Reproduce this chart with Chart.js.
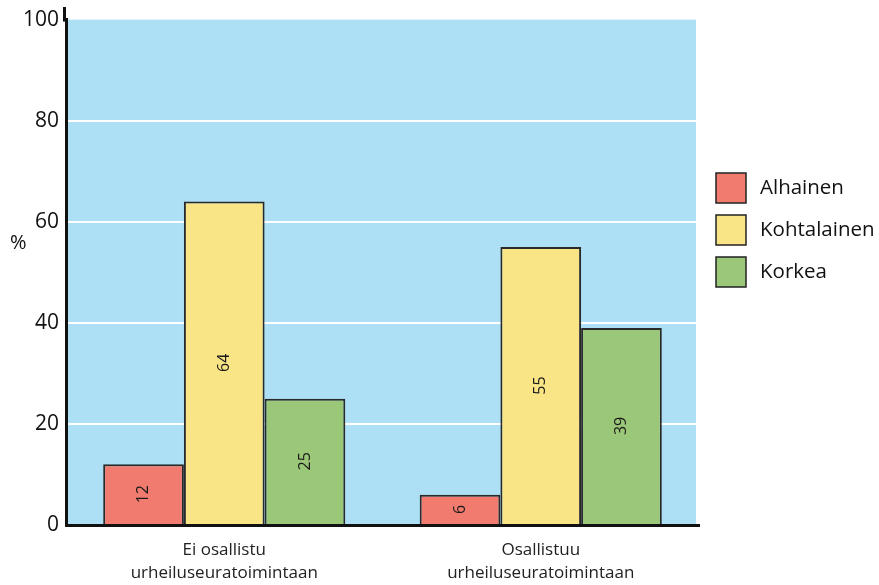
<!DOCTYPE html>
<html><head><meta charset="utf-8">
<script src="https://cdn.jsdelivr.net/npm/chart.js@4/dist/chart.umd.min.js"></script>
<style>html,body{margin:0;padding:0;background:#fff}#wrap{width:879px;height:585px}</style>
</head><body><div id="wrap"><canvas id="c" width="879" height="585"></canvas></div>
<script>
const categories = [["Ei osallistu","urheiluseuratoimintaan"],["Osallistuu","urheiluseuratoimintaan"]];
const seriesNames = ["Alhainen","Kohtalainen","Korkea"];
const alhainen = [12, 6];
const kohtalainen = [64, 55];
const korkea = [25, 39];
const yTicks = [0,20,40,60,80,100];
const colors = ["#f07b6e","#f9e486","#9bc878"];
const FONT = "'Open Sans', 'Noto Sans', sans-serif";

const bgPlugin = {
  id:'bg',
  beforeDraw(chart){
    const {ctx, chartArea:a} = chart;
    ctx.save(); ctx.fillStyle='#ade0f5';
    ctx.fillRect(a.left, a.top, a.right-a.left-3, a.bottom-a.top);
    ctx.restore();
  },
  afterDatasetsDraw(chart){
    const ctx = chart.ctx;
    const a = chart.chartArea;
    ctx.save();
    ctx.font = "16px "+FONT; ctx.fillStyle='#1a1a1a';
    ctx.textAlign='center'; ctx.textBaseline='middle';
    chart.data.datasets.forEach((ds,i)=>{
      chart.getDatasetMeta(i).data.forEach((bar,j)=>{
        const v = ds.data[j];
        const cy = (bar.y + bar.base)/2;
        ctx.save(); ctx.translate(bar.x, cy); ctx.rotate(-Math.PI/2);
        ctx.fillText(String(v),0,0); ctx.restore();
      });
    });
    // axis line extension at top
    ctx.strokeStyle='#111'; ctx.lineWidth=3;
    ctx.beginPath(); ctx.moveTo(a.left-1.5, 7); ctx.lineTo(a.left-1.5, a.top+2); ctx.stroke();
    // % label
    ctx.font = "20px "+FONT; ctx.fillStyle='#111'; ctx.textAlign='left';
    ctx.fillText('%', 10, 243);
    // legend
    ctx.font = "20.5px "+FONT;
    chart.data.datasets.forEach((ds,i)=>{
      const y = 173 + i*42;
      ctx.fillStyle = ds.backgroundColor; ctx.fillRect(716,y,30,30);
      ctx.strokeStyle='#222'; ctx.lineWidth=1.5; ctx.strokeRect(716,y,30,30);
      ctx.fillStyle='#111'; ctx.textBaseline='middle';
      ctx.fillText(ds.label, 760, y+15);
    });
    ctx.restore();
  }
};

new Chart(document.getElementById('c'), {
  type:'bar',
  data:{
    labels: categories,
    datasets:[
      {label:seriesNames[0], data:alhainen, backgroundColor:colors[0]},
      {label:seriesNames[1], data:kohtalainen, backgroundColor:colors[1]},
      {label:seriesNames[2], data:korkea, backgroundColor:colors[2]}
    ].map(d=>Object.assign(d,{borderColor:'#2a2a2a',borderWidth:2,categoryPercentage:0.765,barPercentage:1.0}))
  },
  options:{
    responsive:false, animation:false,
    layout:{padding:{top:17,right:180,left:0,bottom:0}},
    plugins:{legend:{display:false},tooltip:{enabled:false}},
    scales:{
      x:{
        grid:{display:false, drawTicks:false},
        border:{color:'#111', width:3},
        ticks:{color:'#222', font:{family:FONT,size:17, lineHeight:1.35}, padding:14, maxRotation:0},
        afterFit(s){ s.height = 60; }
      },
      y:{
        min:0,max:100,
        afterBuildTicks(s){ s.ticks = yTicks.map(v=>({value:v})); },
        grid:{drawTicks:false, lineWidth:2, color:(c)=> (c.tick && (c.tick.value===0||c.tick.value===100)) ? 'rgba(0,0,0,0)' : '#ffffff'},
        border:{color:'#111', width:3},
        ticks:{color:'#111', font:{family:FONT,size:21}, padding:7},
        afterFit(s){ s.width = 66; }
      }
    }
  },
  plugins:[bgPlugin]
});
</script></body></html>
